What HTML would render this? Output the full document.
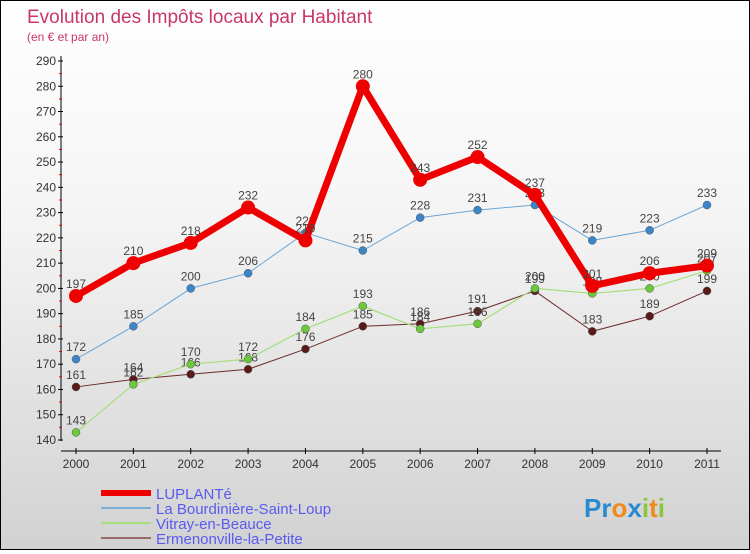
<!DOCTYPE html>
<html><head><meta charset="utf-8"><style>
html,body{margin:0;padding:0}
body{width:750px;height:550px;overflow:hidden;font-family:"Liberation Sans",sans-serif}
#wrap{position:relative;width:748px;height:548px;border:1px solid #000;background:linear-gradient(#fff,#f4f4f4 40%,#d2d2d2)}
</style></head><body>
<div id="wrap">
<svg id="chart" width="748" height="548" font-family="Liberation Sans, sans-serif">
<text x="26" y="22" font-size="19" fill="#c8366a">Evolution des Impôts locaux par Habitant</text>
<text x="26" y="40" font-size="12" fill="#c8366a">(en € et par an)</text>
<text x="583" y="516" font-size="26" font-weight="bold"><tspan fill="#2a8ad0">Pr</tspan><tspan fill="#f08a1a">o</tspan><tspan fill="#2a8ad0">x</tspan><tspan fill="#8cc63e">i</tspan><tspan fill="#f08a1a">t</tspan><tspan fill="#8cc63e">i</tspan></text>
<g id="axes"></g><g id="series"></g><g id="legend"></g>
</svg></div>
<script>
const years=["2000","2001","2002","2003","2004","2005","2006","2007","2008","2009","2010","2011"];
const yTicks=[140,150,160,170,180,190,200,210,220,230,240,250,260,270,280,290];
const luplante=[197,210,218,232,219,280,243,252,237,201,206,209];
const bourdiniere=[172,185,200,206,222,215,228,231,233,219,223,233];
const vitray=[143,162,170,172,184,193,184,186,200,198,200,207];
const ermenonville=[161,164,166,168,176,185,186,191,199,183,189,199];
const names=["LUPLANTé","La Bourdinière-Saint-Loup","Vitray-en-Beauce","Ermenonville-la-Petite"];
const NS="http://www.w3.org/2000/svg";
const X=i=>75+i*(631/11);
const Y=v=>439-(v-140)*(379/150);
function mk(tag,attrs,parent){const e=document.createElementNS(NS,tag);for(const k in attrs)e.setAttribute(k,attrs[k]);parent.appendChild(e);return e;}
const ax=document.getElementById('axes');
let l=mk('line',{x1:60,y1:55,x2:60,y2:440,stroke:'#000'},ax);


l=mk('line',{x1:60,y1:450,x2:720,y2:450,stroke:'#000'},ax);


yTicks.forEach((v,i)=>{
 mk('line',{x1:57,y1:Y(v),x2:62,y2:Y(v),stroke:'#000'},ax);
 if(i<yTicks.length-1)mk('line',{x1:58,y1:Y(v+5),x2:61,y2:Y(v+5),stroke:'#e00'},ax);
 const t=mk('text',{x:55,y:Y(v)+4,'font-size':12,'text-anchor':'end',fill:'#333'},ax);
 t.textContent=v;
 
 
});
years.forEach((y,i)=>{
 mk('line',{x1:X(i),y1:447,x2:X(i),y2:453,stroke:'#000'},ax);
 const t=mk('text',{x:X(i),y:467,'font-size':12,'text-anchor':'middle',fill:'#333'},ax);
 t.textContent=y;
 
 
});
const sg=document.getElementById('series');
const defs=[[ermenonville,'#6e2a2a','#5a1a1a',1,4,'ermenonville'],[vitray,'#a6de7a','#6cc83c',1.2,4,'vitray'],[bourdiniere,'#6aa6d6','#3a86c8',1,4,'bourdiniere'],[luplante,'#ee0000','#ee0000',7,7,'luplante']];
defs.forEach(([d,c,mc,w,r,n])=>{
 const g=mk('g',{},sg);
 
 
 const p=mk('polyline',{points:d.map((v,i)=>X(i)+','+Y(v)).join(' '),fill:'none',stroke:c,'stroke-width':w,'stroke-linejoin':'round'},g);
 
 
 d.forEach((v,i)=>{
  const pt=mk('circle',{cx:X(i),cy:Y(v),r:r,fill:mc,stroke:n==='luplante'?'none':'#555','stroke-width':0.5},g);
  
  
  const t=mk('text',{x:X(i),y:Y(v)-8,'font-size':12,'text-anchor':'middle',fill:'#444'},g);
  t.textContent=v;
  
  
 });
});
const lg=document.getElementById('legend');
const lc=['#ee0000','#7aaed6','#a6de7a','#9a6a6a'];
names.forEach((n,i)=>{
 const y=492+i*15;
 const ln=mk('line',{x1:100,y1:y,x2:150,y2:y,stroke:lc[i],'stroke-width':i===0?6:2},lg);
 
 
 const t=mk('text',{x:155,y:y+6,'font-size':15,fill:'#5a5af0'},lg);
 t.textContent=n;
 
 
});
</script>
</body></html>
